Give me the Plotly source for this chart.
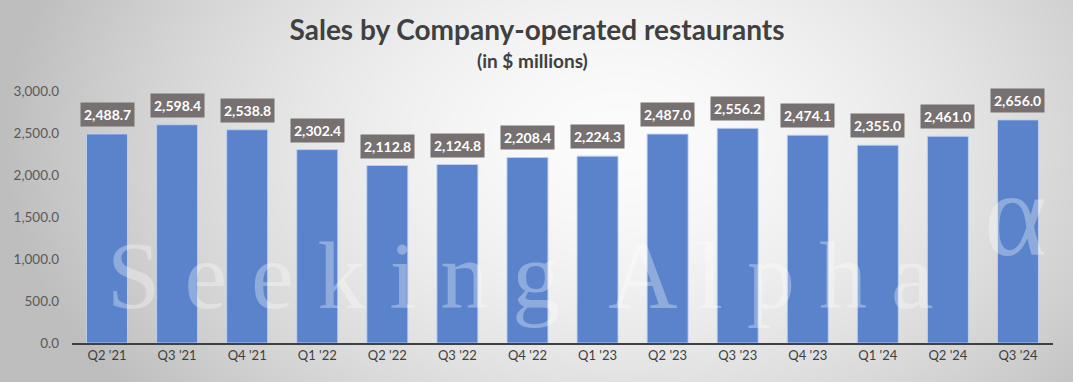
import base64, struct, zlib
import numpy as np
import plotly.graph_objects as go

quarters = ["Q2 '21", "Q3 '21", "Q4 '21", "Q1 '22", "Q2 '22", "Q3 '22", "Q4 '22",
            "Q1 '23", "Q2 '23", "Q3 '23", "Q4 '23", "Q1 '24", "Q2 '24", "Q3 '24"]
sales = [2488.7, 2598.4, 2538.8, 2302.4, 2112.8, 2124.8, 2208.4,
         2224.3, 2487.0, 2556.2, 2474.1, 2355.0, 2461.0, 2656.0]
y_ticks = [0, 500, 1000, 1500, 2000, 2500, 3000]

W, H = 1073, 382
L, R, T, B = 72, 20, 91, 39
PW, PH = W - L - R, H - T - B

# radial gradient background image
yy, xx = np.mgrid[0:H, 0:W].astype(float)
d = np.sqrt(((xx - 620) / 620.0) ** 2 + ((yy - 140) / 420.0) ** 2)
d = np.clip(d, 0, 1)
img = (252 - 62 * d ** 1.6).astype(np.uint8)
raw = b"".join(b"\x00" + img[r].tobytes() for r in range(H))
def chunk(tag, data):
    return struct.pack(">I", len(data)) + tag + data + struct.pack(">I", zlib.crc32(tag + data) & 0xffffffff)
png = b"\x89PNG\r\n\x1a\n" + chunk(b"IHDR", struct.pack(">IIBBBBB", W, H, 8, 0, 0, 0, 0)) \
      + chunk(b"IDAT", zlib.compress(raw, 9)) + chunk(b"IEND", b"")
uri = "data:image/png;base64," + base64.b64encode(png).decode()

fig = go.Figure()
fig.add_trace(go.Bar(
    x=quarters, y=sales,
    marker=dict(color="#5A83CB", line=dict(color="rgba(190,210,245,0.9)", width=1)),
    hoverinfo="x+y",
))

annotations = []
for q, v in zip(quarters, sales):
    annotations.append(dict(
        x=q, y=v, xref="x", yref="y", text=f"<b>{v:,.1f}</b>", showarrow=False,
        yanchor="bottom", yshift=7, bgcolor="#767170", borderpad=3,
        font=dict(family="Lato", size=14, color="white"),
    ))

# watermark
wm = dict(family="Liberation Serif", size=96, color="rgba(255,255,255,0.32)")
annotations.append(dict(
    x=(520 - L) / PW, y=(H - B - 275) / PH, xref="paper", yref="paper",
    text=" ".join("Seeking") + " \u00a0" + " ".join("Alpha"), showarrow=False,
    xanchor="center", yanchor="middle", font=wm,
))
annotations.append(dict(
    x=(1015 - L) / PW, y=(H - B - 214) / PH, xref="paper", yref="paper",
    text="α", showarrow=False, xanchor="center", yanchor="middle",
    font=dict(family="Liberation Serif", size=120, color="rgba(255,255,255,0.32)"),
))
annotations.append(dict(
    x=(532 - L) / PW, y=1 + (T - 60) / PH, xref="paper", yref="paper", xanchor="center", yanchor="middle",
    text="<b>(in $ millions)</b>", showarrow=False,
    font=dict(family="Lato", size=19, color="#404040"),
))

fig.update_layout(
    width=W, height=H,
    margin=dict(l=L, r=R, t=T, b=B),
    paper_bgcolor="#dcdcdc", plot_bgcolor="rgba(0,0,0,0)",
    title=dict(text="<b>Sales by Company-operated restaurants</b>", x=537 / W, xanchor="center",
               y=1 - 30 / H, yanchor="middle", yref="container",
               font=dict(family="Lato", size=28, color="#404040")),
    bargap=0.415,
    showlegend=False,
    annotations=annotations,
    images=[dict(source=uri, xref="paper", yref="paper", x=-L / PW, y=1 + T / PH,
                 sizex=W / PW, sizey=H / PH, sizing="stretch", layer="below",
                 xanchor="left", yanchor="top")],
    xaxis=dict(showline=True, linecolor="#404040", linewidth=1.5, ticks="",
               tickfont=dict(family="Lato", size=13, color="#404040"), showgrid=False),
    yaxis=dict(range=[0, 3000], tickvals=y_ticks, ticktext=[f"{t:,.1f}" for t in y_ticks],
               showgrid=False, zeroline=False, ticks="", ticklabelstandoff=12,
               tickfont=dict(family="Lato", size=13.5, color="#595959")),
)
fig.update_traces(cliponaxis=False)
fig.write_html("out.html", config={"displayModeBar": False},
               post_script="document.body.style.margin='0';")
